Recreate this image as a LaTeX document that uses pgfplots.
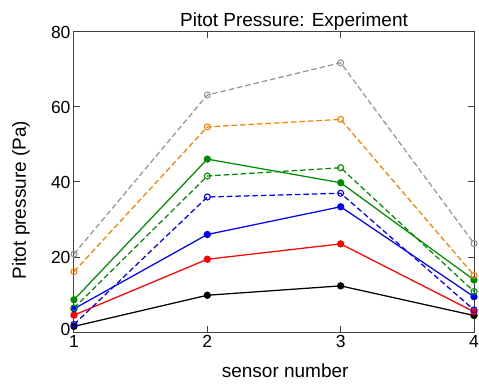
\documentclass[border=0pt]{standalone}
\usepackage{fontspec}
\setmainfont{Liberation Sans}
\usepackage{pgfplots}
\pgfplotsset{compat=1.18}
\definecolor{cgray}{RGB}{150,150,150}
\definecolor{corange}{RGB}{255,128,0}
\definecolor{cgreen}{RGB}{0,140,0}
\definecolor{cblue}{RGB}{0,0,255}
\definecolor{cred}{RGB}{255,0,0}
\begin{document}
\begin{tikzpicture}
\useasboundingbox (-74pt,-51pt) rectangle (405pt,332pt);
\begin{axis}[
  at={(0,0)}, anchor=south west,
  scale only axis, width=400pt, height=300pt,
  xmin=1, xmax=4, ymin=0, ymax=80,
  xtick={1,2,3,4}, ytick={0,20,40,60,80},
  yticklabels={\raisebox{6pt}{0},20,40,60,80},
  tick align=inside, major tick length=6pt,
  axis line style={black!75, line width=1pt},
  tick style={black!75, line width=1pt},
  ticklabel style={font=\fontsize{17.5}{20}\selectfont},
  /pgf/number format/assume math mode=true,
  clip=false,
  title={Pitot Pressure: Experiment},
  xlabel={sensor number},
  ylabel={Pitot pressure (Pa)},
  every axis title/.style={at={(axis description cs:0.55,1)}, anchor=base, yshift=5pt, font=\fontsize{19}{22}\selectfont},
  every axis x label/.style={at={(axis description cs:0.528,-0.152)}, anchor=base, font=\fontsize{19}{22}\selectfont},
  every axis y label/.style={at={(axis description cs:-0.1325,0.44)}, rotate=90, anchor=center, font=\fontsize{19}{22}\selectfont},
  every axis plot/.append style={line width=1.25pt},
  sol/.style={mark=*, mark size=3pt, solid},
  das/.style={mark=o, mark size=3pt, dash pattern=on 5.5pt off 3pt, mark options={solid, line width=1.1pt}},
]
\addplot[color=black, sol] coordinates {(1,1.5)(2,9.8)(3,12.3)(4,4.4)};
\addplot[color=cred, sol] coordinates {(1,4.5)(2,19.4)(3,23.5)(4,5.4)};
\addplot[color=cblue, sol] coordinates {(1,6.2)(2,26.0)(3,33.4)(4,9.4)};
\addplot[color=cblue, das] coordinates {(1,2.0)(2,36.0)(3,37.0)(4,5.9)};
\addplot[color=cgreen, sol] coordinates {(1,8.6)(2,46.1)(3,39.8)(4,13.9)};
\addplot[color=cgreen, das] coordinates {(1,6.4)(2,41.6)(3,43.8)(4,10.8)};
\addplot[color=corange, das] coordinates {(1,16.1)(2,54.7)(3,56.7)(4,15.1)};
\addplot[color=cgray, das] coordinates {(1,20.8)(2,63.2)(3,71.8)(4,23.6)};
\end{axis}
\end{tikzpicture}
\end{document}
